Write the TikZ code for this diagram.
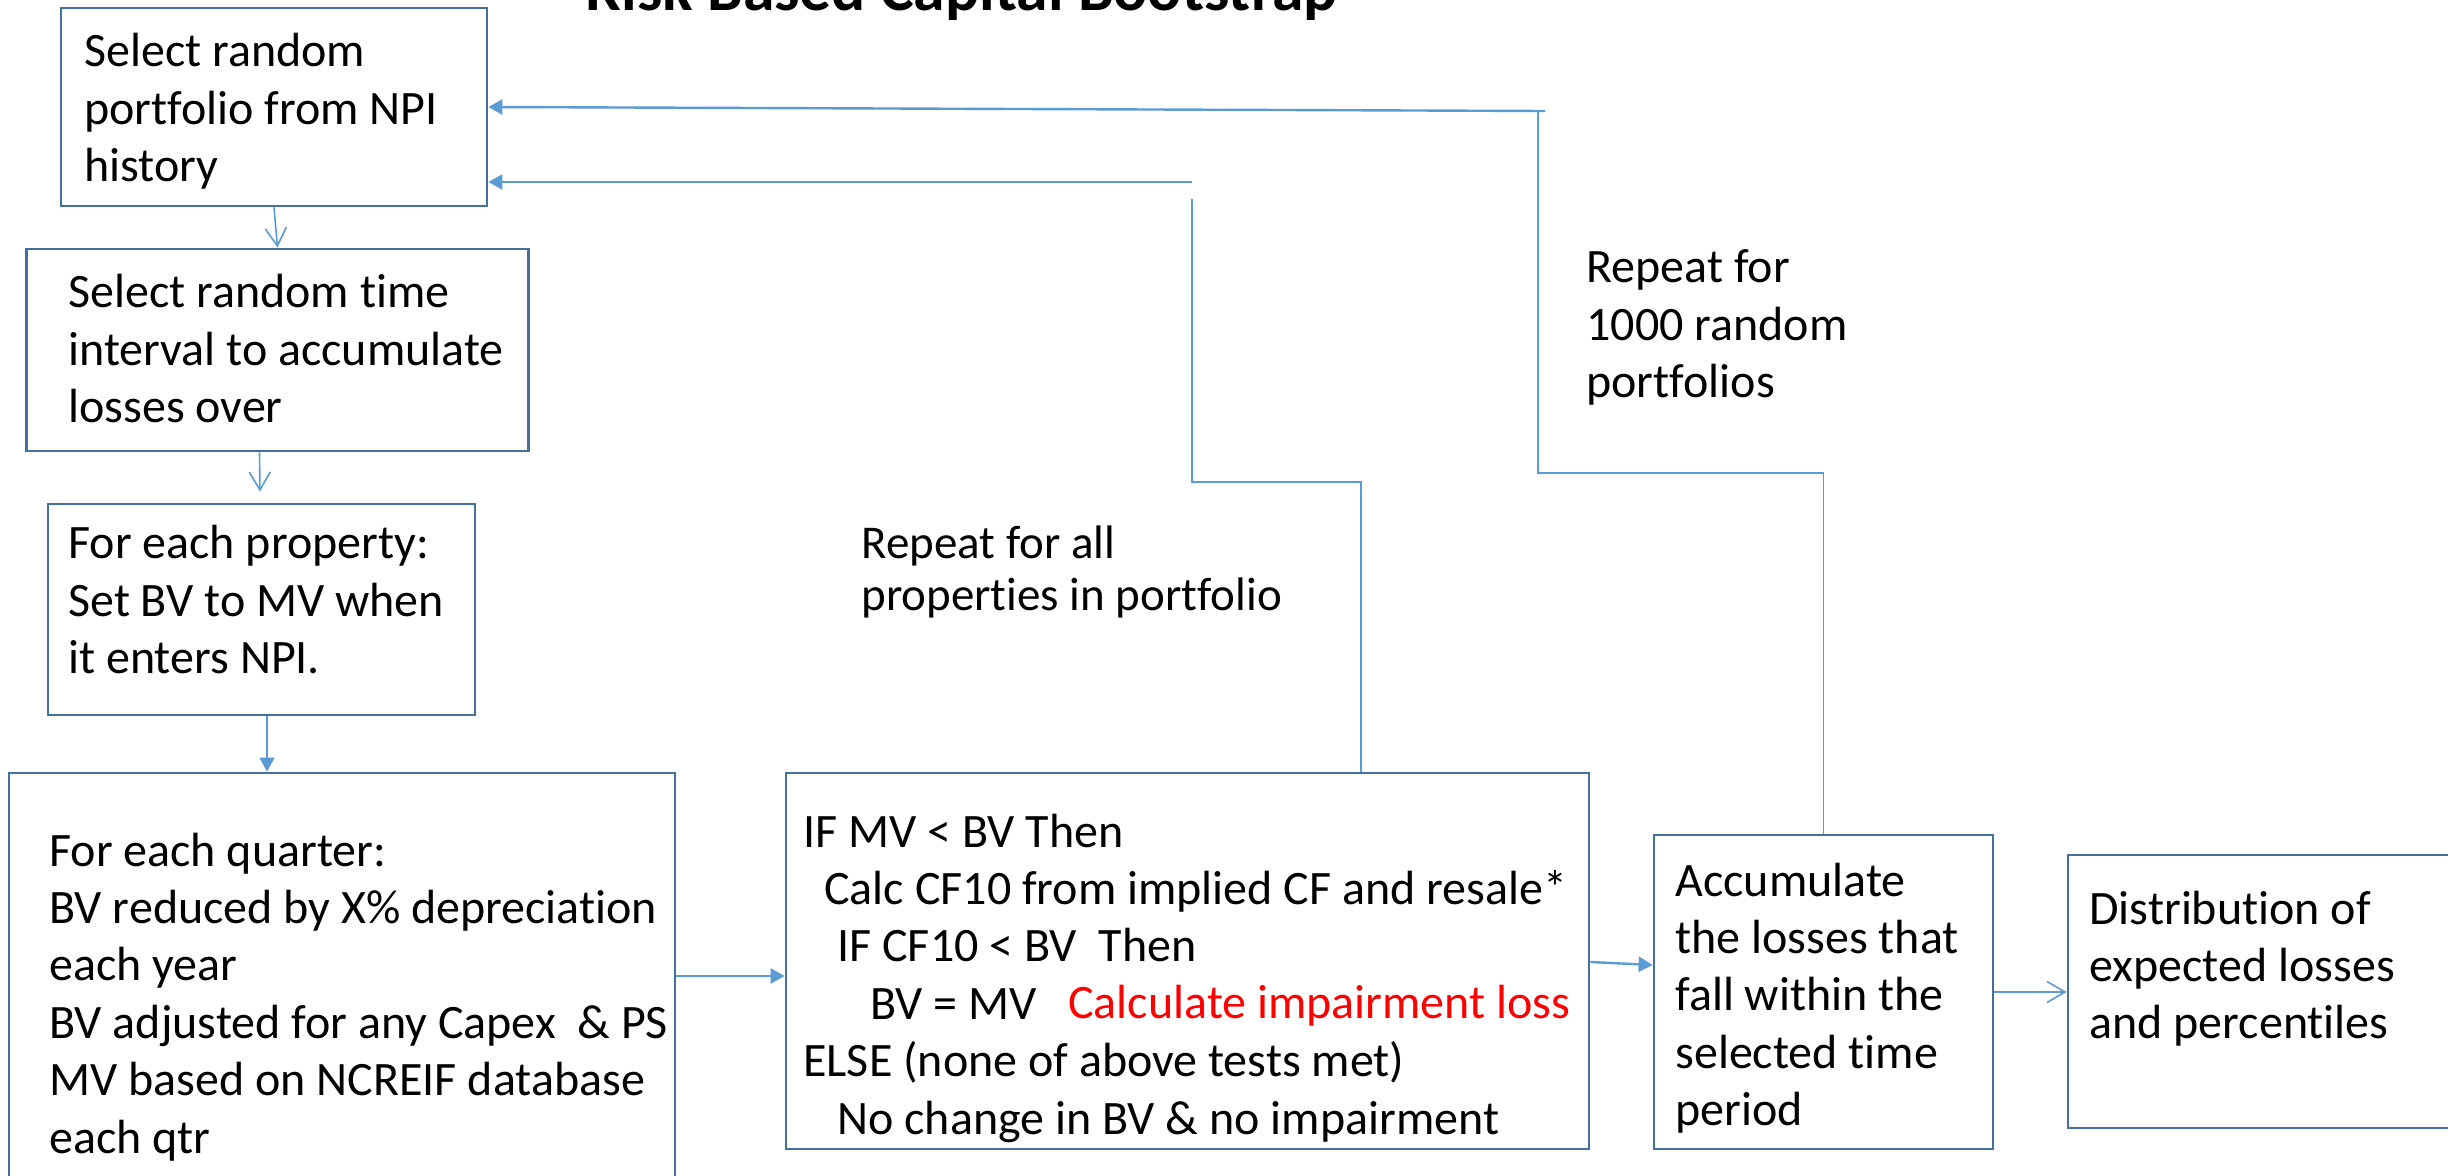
\documentclass[tikz,border=0pt]{standalone}
\usepackage{fontspec}
\setmainfont[Ligatures=NoCommon]{Carlito}
\usetikzlibrary{arrows.meta}
\definecolor{conn}{RGB}{91,155,213}
\definecolor{boxline}{RGB}{65,113,156}
\newcommand{\mlines}[1]{\begin{tabular}[t]{@{}l@{}}#1\end{tabular}}
\tikzset{
  boxnode/.style={draw=boxline, line width=1.4pt, fill=white, rectangle, inner sep=0pt},
  txt/.style={anchor=base west, inner sep=0pt, font=\fontsize{24}{28.7}\selectfont},
  lbl/.style={anchor=base west, inner sep=0pt, font=\fontsize{23.5}{25.7}\selectfont},
  thinline/.style={draw=conn, line width=0.55pt},
  vtip/.style={draw=conn, line width=0.8pt, -{Straight Barb[length=9pt,width=10.5pt,line width=0.8pt]}},
  filltip/.style={draw=conn, line width=1.2pt, -{Triangle[length=7pt,width=7.5pt]}},
}
\begin{document}
\begin{tikzpicture}[x=0.5pt,y=-0.5pt]
\useasboundingbox (0,0) rectangle (2448,1176);
\clip (0,0) rectangle (2448,1176);
\fill[white] (0,0) rectangle (2448,1176);

% title
\node[anchor=base, inner sep=0pt, font=\fontsize{31.8}{36}\selectfont\bfseries] (title) at (961.5,11) {Risk Based Capital Bootstrap};

% boxes
\node[boxnode, minimum width=213pt, minimum height=99pt] (b1) at (274,107) {};
\node[boxnode, minimum width=251pt, minimum height=101pt] (b2) at (277.5,350) {};
\node[boxnode, minimum width=213.5pt, minimum height=105.5pt] (b3) at (261.5,609.5) {};
\node[boxnode, minimum width=333pt, minimum height=238.5pt] (b4) at (342,1011.5) {};
\node[boxnode, minimum width=401.5pt, minimum height=188pt] (b5) at (1187.5,961) {};
\node[boxnode, minimum width=169.5pt, minimum height=157pt] (b6) at (1823.5,992) {};
\node[boxnode, minimum width=216pt, minimum height=136.5pt] (b7) at (2284,991.5) {};

% loop coordinates
\coordinate (c1) at (1192,482);
\coordinate (c2) at (1192,199);
\coordinate (c3) at (1192,182);
\coordinate (c4) at (1538,473);
\coordinate (c5) at (1538,110);
\coordinate (c6) at (1545,111);

% connectors
\draw[vtip] (b1.south) -- (b2.north);
\draw[vtip] ([xshift=-9pt]b2.south) -- ([xshift=-0.75pt,yshift=5.5pt]b3.north);
\draw[filltip, line width=0.8pt] ([xshift=2.75pt]b3.south) -- ([xshift=2.75pt]b3.south |- b4.north);
\draw[filltip] ([yshift=-7.5pt]b5.west -| b4.east) -- ([yshift=-7.5pt]b5.west);
\draw[filltip] ([yshift=-0.5pt]b5.east) -- ([yshift=13.5pt]b6.west);
\draw[vtip] (b6.east) -- (b6.east -| b7.west);

\draw[thinline] ([xshift=86.75pt]b5.north) |- (c1) -- (c2);
\draw[filltip] (c3) -- (b1.east |- c3);
\draw[thinline] (b6.north) |- (c4) -- (c5);
\draw[filltip] (c6) -- (b1.east);

% texts
\node[txt] (t1) at (84,67) {\mlines{Select random\\portfolio from NPI\\history}};
\node[txt] (t2) at (68,308) {\mlines{Select random time\\interval to accumulate\\losses over}};
\node[txt] (t3) at (68,559) {\mlines{For each property:\\Set BV to MV when\\it enters NPI.}};
\node[txt] (t4) at (49,866) {\mlines{For each quarter:\\BV reduced by X\% depreciation\\each year\\BV adjusted for any Capex \ \& PS\\MV based on NCREIF database\\each qtr}};
\node[txt] (t5) at (803,847) {\mlines{IF MV < BV Then\\
\hspace*{10.5pt}Calc CF10 from implied CF and resale*\\
\hspace*{17pt}IF CF10 < BV \ Then\\
\hspace*{33.5pt}BV = MV\\
ELSE (none of above tests met)\\
\hspace*{17pt}No change in BV \& no impairment}};
\node[txt, text=red] (t5r) at (1068,1018) {Calculate impairment loss};
\node[txt] (t6) at (1675,896) {\mlines{Accumulate\\the losses that\\fall within the\\selected time\\period}};
\node[txt] (t7) at (2089,924) {\mlines{Distribution of\\expected losses\\and percentiles}};
\node[lbl] (l1) at (861,559) {\mlines{Repeat for all\\properties in portfolio}};
\node[txt] (l2) at (1586,283) {\mlines{Repeat for\\1000 random\\portfolios}};
\end{tikzpicture}
\end{document}
